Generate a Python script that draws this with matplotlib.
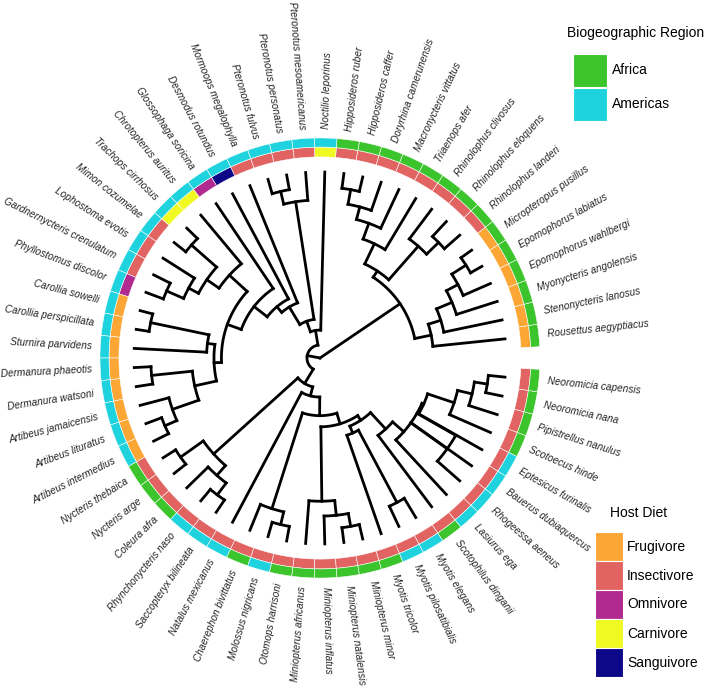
import numpy as np
import matplotlib
matplotlib.use('Agg')
import matplotlib.pyplot as plt
from matplotlib.patches import Rectangle

tip_labels = [
    'Rousettus aegyptiacus', 'Stenonycteris lanosus', 'Myonycteris angolensis',
    'Epomophorus wahlbergi', 'Epomophorus labiatus', 'Micropteropus pusillus',
    'Rhinolophus landeri', 'Rhinolophus eloquens', 'Rhinolophus clivosus',
    'Triaenops afer', 'Macronycteris vittatus', 'Doryrhina camerunensis',
    'Hipposideros caffer', 'Hipposideros ruber', 'Noctilio leporinus',
    'Pteronotus mesoamericanus', 'Pteronotus personatus', 'Pteronotus fulvus',
    'Mormoops megalophylla', 'Desmodus rotundus', 'Glossophaga soricina',
    'Chrotopterus auritus', 'Trachops cirrhosus', 'Mimon cozumelae',
    'Lophostoma evotis', 'Gardnernycteris crenulatum', 'Phyllostomus discolor',
    'Carollia sowelli', 'Carollia perspicillata', 'Sturnira parvidens',
    'Dermanura phaeotis', 'Dermanura watsoni', 'Artibeus jamaicensis',
    'Artibeus lituratus', 'Artibeus intermedius', 'Nycteris thebaica',
    'Nycteris arge', 'Coleura afra', 'Rhynchonycteris naso',
    'Saccopteryx bilineata', 'Natalus mexicanus', 'Chaerephon bivittatus',
    'Molossus nigricans', 'Otomops harrisoni', 'Miniopterus africanus',
    'Miniopterus inflatus', 'Miniopterus natalensis', 'Miniopterus minor',
    'Myotis tricolor', 'Myotis pilosatibialis', 'Myotis elegans',
    'Scotophilus dinganii', 'Lasiurus ega', 'Rhogeessa aeneus',
    'Bauerus dubiaquercus', 'Eptesicus furinalis', 'Scotoecus hinde',
    'Pipistrellus nanulus', 'Neoromicia nana', 'Neoromicia capensis',
]

F, I, O, C, S = 'Frugivore', 'Insectivore', 'Omnivore', 'Carnivore', 'Sanguivore'
diet = [F] * 6 + [I] * 8 + [C] + [I] * 4 + [S, O, C, C, I, I, I, O] + [F] * 8 + [I] * 25

AF, AM = 'Africa', 'Americas'
region = ([AF] * 14 + [AM] * 21 + [AF] * 3 + [AM] * 3 + [AF, AM] + [AF] * 6
          + [AM, AM, AF] + [AM] * 4 + [AF] * 4)

# tree: leaves are tip indices, number after ")" is node depth (tip = 1)
tree_newick = (
    "(((0,(1,(2,(3,(4,5)0.93)0.84)0.77)0.68)0.61,"
    "(((6,7)0.89,8)0.80,(9,(10,(11,(12,13)0.92)0.84)0.77)0.68)0.56)0.52,"
    "((14,((15,(16,17)0.92)0.85,(18,(19,(20,"
    "((21,((22,23)0.92,(24,(25,26)0.90)0.80)0.74)0.66,"
    "(((27,28)0.93,29)0.61,((30,31)0.91,(32,(33,34)0.91)0.84)0.69)0.57)0.53"
    ")0.45)0.36)0.32)0.21)0.15,"
    "(((35,36)0.92,(37,(38,39)0.92)0.84)0.77,"
    "(40,((41,(42,43)0.92)0.85,((44,(45,(46,47)0.92)0.85)0.77,"
    "((48,(49,50)0.88)0.44,(51,(52,(53,(54,(55,(56,(57,(58,59)0.91)0.84)0.76)0.61)0.60)0.84)0.60)0.52)0.40"
    ")0.37)0.31)0.21)0.16)0.07)0.0"
)

diet_order = [F, I, O, C, S]
diet_colors = ['#FCA636', '#E16462', '#B12A90', '#F0F921', '#0D0887']
region_order = [AF, AM]
region_colors = ['#3CC42C', '#1FD3DE']


def parse(s):
    s = s.replace(' ', '')
    pos = 0

    def node():
        nonlocal pos
        if s[pos] == '(':
            pos += 1
            kids = [node()]
            while s[pos] == ',':
                pos += 1
                kids.append(node())
            pos += 1
            start = pos
            while pos < len(s) and s[pos] not in ',)':
                pos += 1
            return (float(s[start:pos]), kids)
        start = pos
        while s[pos] not in ',)':
            pos += 1
        return int(s[start:pos])
    return node()


fig = plt.figure(figsize=(7.08, 6.86), dpi=100)
# polar axes centred on the tree, 1 depth unit = 186 px
rmax = 2.0
half = rmax * 186
cx, cy = 320, 686 - 358
ax = fig.add_axes([(cx - half) / 708, (cy - half) / 686, 2 * half / 708, 2 * half / 686],
                  projection='polar')
ax.set_ylim(0, rmax)
ax.set_axis_off()

n = len(tip_labels)
step = 2 * np.pi / (n + 1)
lw = 2.0


def draw(nd):
    if isinstance(nd, int):
        return (nd + 1) * step, 1.0
    h, kids = nd
    pts = [draw(k) for k in kids]
    ths = [p[0] for p in pts]
    arc = np.linspace(min(ths), max(ths), 80)
    ax.plot(arc, np.full_like(arc, h), color='black', lw=lw, solid_capstyle='projecting')
    for t, r in pts:
        ax.plot([t, t], [h, r], color='black', lw=lw, solid_capstyle='projecting')
    return np.mean(ths), h


draw(parse(tree_newick))

theta = (np.arange(n) + 1) * step
ax.bar(theta, 0.053, width=step, bottom=1.081,
       color=[diet_colors[diet_order.index(d)] for d in diet],
       edgecolor='white', linewidth=0.4)
ax.bar(theta, 0.049, width=step, bottom=1.134,
       color=[region_colors[region_order.index(g)] for g in region],
       edgecolor='white', linewidth=0.4)

for t, lab in zip(theta, tip_labels):
    deg = np.degrees(t)
    if 90 < deg < 270:
        rot, ha = deg - 180, 'right'
    else:
        rot, ha = deg, 'left'
    ax.text(t, 1.23, lab, rotation=rot, rotation_mode='anchor', ha=ha, va='center',
            fontsize=7.2, style='italic', family='Liberation Sans', color='#222222')

# legends drawn in pixel coordinates
lg = fig.add_axes([0, 0, 1, 1])
lg.set_xlim(0, 708)
lg.set_ylim(686, 0)
lg.set_axis_off()

lg.text(567, 33, 'Biogeographic Region', fontsize=10, family='Liberation Sans', va='center')
for k, (name, col) in enumerate(zip(region_order, region_colors)):
    y0 = 54 + k * 33.5
    lg.add_patch(Rectangle((573, y0), 34, 33, facecolor=col, edgecolor='white', lw=0.8))
    lg.text(612, y0 + 16.5, name, fontsize=10, family='Liberation Sans', va='center')

lg.text(610, 513, 'Host Diet', fontsize=10, family='Liberation Sans', va='center')
for k, (name, col) in enumerate(zip(diet_order, diet_colors)):
    y0 = 532 + k * 29
    lg.add_patch(Rectangle((595, y0), 28, 29, facecolor=col, edgecolor='white', lw=0.8))
    lg.text(627, y0 + 14.5, name, fontsize=10, family='Liberation Sans', va='center')

fig.savefig('out.png', dpi=100)
